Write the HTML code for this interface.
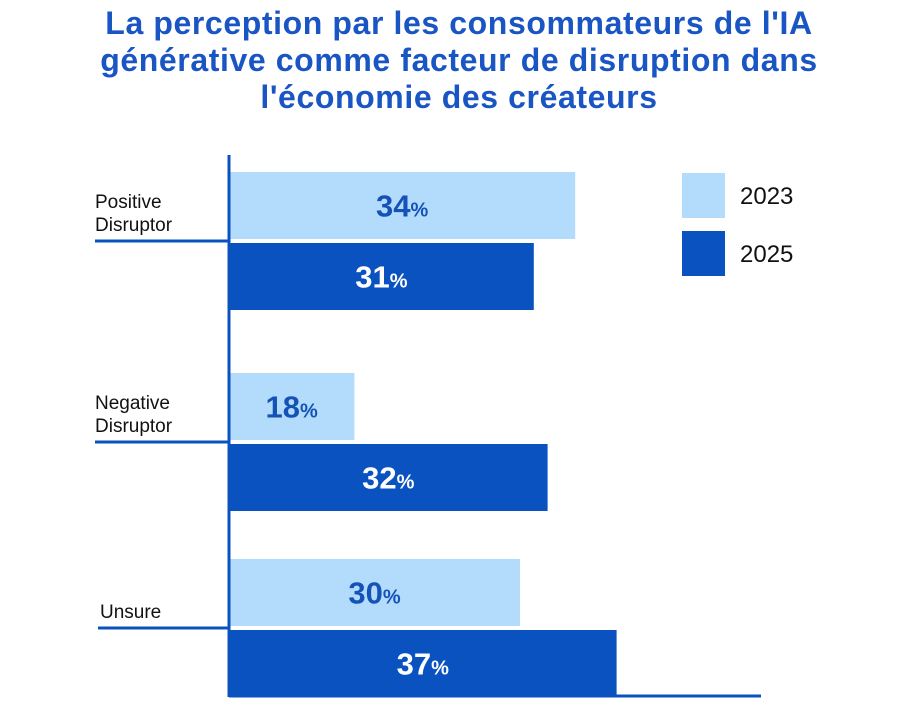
<!DOCTYPE html>
<html><head><meta charset="utf-8"><style>
body{margin:0;background:#fff;width:918px;height:710px;overflow:hidden;font-family:"Liberation Sans",sans-serif}
#title{position:absolute;left:0;top:5px;width:918px;text-align:center;color:#1a55c4;font-weight:bold;font-size:32px;line-height:37px;letter-spacing:0.6px}
</style></head><body>
<div id="title">La perception par les consommateurs de l'IA<br>générative comme facteur de disruption dans<br>l'économie des créateurs</div>
<svg id="chart" width="918" height="710" style="position:absolute;left:0;top:0"></svg>
<script>
const categories=["Positive Disruptor","Negative Disruptor","Unsure"];
const labelLines=[["Positive","Disruptor"],["Negative","Disruptor"],["Unsure"]];
const series2023=[34,18,30];
const series2025=[31,32,37];
const seriesNames=["2023","2025"];
const NS="http://www.w3.org/2000/svg";
const svg=document.getElementById('chart');
const x0=229;
function xs(v){return 106+13.8*v;}
const groupTop=[172,373,559];
const barH=67;
function mk(t,a){const e=document.createElementNS(NS,t);for(const k in a)e.setAttribute(k,a[k]);svg.appendChild(e);return e;}
const colors=["#b3dcfc","#0a52c0"];
const txtCol=["#1452b8","#ffffff"];
categories.forEach((c,i)=>{
  [series2023[i],series2025[i]].forEach((v,s)=>{
    const y=groupTop[i]+s*71;
    const r=mk('rect',{x:x0,y:y,width:xs(v)-x0,height:barH,fill:colors[s]});
    
    
    const t=mk('text',{x:(x0+xs(v))/2,y:y+barH/2+11,'text-anchor':'middle',fill:txtCol[s],'font-size':31,'font-weight':'bold'});
    
    
    t.textContent=v;
    const p=document.createElementNS(NS,'tspan');p.setAttribute('font-size',20);p.textContent='%';t.appendChild(p);
  });
  const ly=groupTop[i]+69;
  const tick=mk('line',{x1:i==2?98:95,x2:x0,y1:ly,y2:ly,stroke:'#0a52c0','stroke-width':3});
  
  
  const lines=labelLines[i];
  lines.forEach((l,k)=>{
    const t=mk('text',{x:i==2?100:95,y:ly-10-(lines.length-1-k)*23,'font-size':19,fill:'#111'});
    
    
    t.textContent=l;
  });
});
const ya=mk('line',{x1:x0,x2:x0,y1:155,y2:697,stroke:'#0a52c0','stroke-width':3});


const xa=mk('line',{x1:x0,x2:761,y1:696,y2:696,stroke:'#0a52c0','stroke-width':3});


seriesNames.forEach((n,s)=>{
  const y=173+s*58;
  const r=mk('rect',{x:682,y:y,width:43,height:45,fill:colors[s]});
  
  
  const t=mk('text',{x:740,y:y+31,'font-size':24,fill:'#111'});
  
  
  t.textContent=n;
});
</script>
</body></html>
